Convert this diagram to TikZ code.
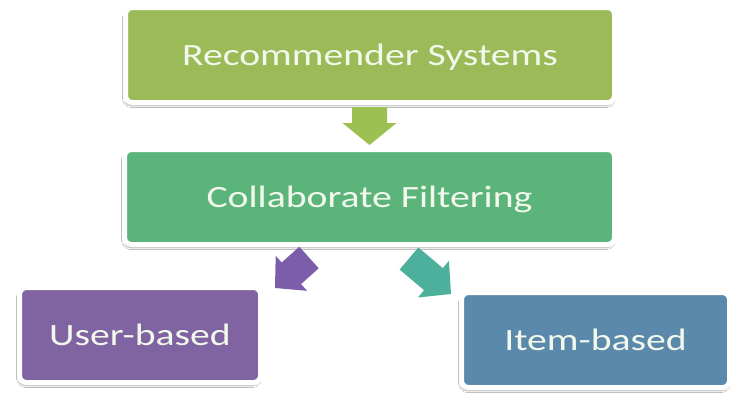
\documentclass[tikz,border=0pt]{standalone}
\usepackage{fontspec}
\setmainfont{Carlito}
\usetikzlibrary{calc,shadows.blur}

\definecolor{recgreen}{RGB}{155,187,89}
\definecolor{cfgreen}{RGB}{91,181,123}
\definecolor{userpurple}{RGB}{128,100,162}
\definecolor{itemblue}{RGB}{91,137,171}
\definecolor{downgreen}{RGB}{157,192,82}
\definecolor{arrowpurple}{RGB}{125,92,170}
\definecolor{arrowteal}{RGB}{76,176,156}
\definecolor{labeltext}{RGB}{243,248,236}

% block arrow from tail coordinate #1 to tip coordinate #2:
% #3 half shaft width, #4 half head width, #5 head length, #6 fill style
\newcommand\blockarrow[6]{%
  \coordinate (#1-hb) at ($(#2)!#5!(#1)$);
  \fill[#6] ($(#1)!#3!90:(#2)$) -- ($(#1-hb)!#3!90:(#2)$) -- ($(#1-hb)!#4!90:(#2)$)
    -- (#2) -- ($(#1-hb)!#4!-90:(#2)$) -- ($(#1-hb)!#3!-90:(#2)$)
    -- ($(#1)!#3!-90:(#2)$) -- cycle;}

\tikzset{
  box/.style={draw=white, line width=5pt, rounded corners=7pt,
    text=labeltext, text height=20pt, text depth=0pt, inner sep=0pt,
    font=\fontsize{31}{36}\selectfont,
    blur shadow={shadow xshift=-1pt, shadow yshift=-3pt,
      shadow blur steps=6, shadow opacity=35}},
  arrowshade/.style={blur shadow={shadow xshift=0pt, shadow yshift=-1pt,
      shadow blur steps=4, shadow opacity=20}},
}
\newcommand\wide[1]{\scalebox{1.28}[1]{#1}}

\begin{document}
\begin{tikzpicture}[x=1pt, y=-1pt]
  \useasboundingbox (0,0) rectangle (731,394);
  \fill[white] (0,0) rectangle (731,394);

  % boxes
  \node[box, fill=recgreen, minimum width=489pt, minimum height=95pt]
    (rec) at (370,55) {\wide{Recommender Systems}};
  \node[box, fill=cfgreen, minimum width=490pt, minimum height=95pt]
    (cf) at (369.5,197) {\wide{Collaborate Filtering}};
  \node[box, fill=userpurple, minimum width=241pt, minimum height=95pt]
    (user) at (140,335) {\wide{User-based}};
  \node[box, fill=itemblue, minimum width=268pt, minimum height=95pt]
    (item) at (595.5,340) {\wide{Item-based}};

  % block arrows between the boxes
  \coordinate (dtail) at (369.5,107);
  \coordinate (dtip)  at (369.5,145);
  \blockarrow{dtail}{dtip}{17.5pt}{27pt}{22pt}{downgreen}

  \coordinate (ptail) at (309,257.5);
  \coordinate (ptip)  at (275,288);
  \blockarrow{ptail}{ptip}{14.5pt}{23.5pt}{22pt}{arrowpurple}

  \coordinate (ttail) at (409,258.5);
  \coordinate (ttip)  at (451,294);
  \blockarrow{ttail}{ttip}{14.5pt}{24pt}{23pt}{arrowteal}
\end{tikzpicture}
\end{document}
